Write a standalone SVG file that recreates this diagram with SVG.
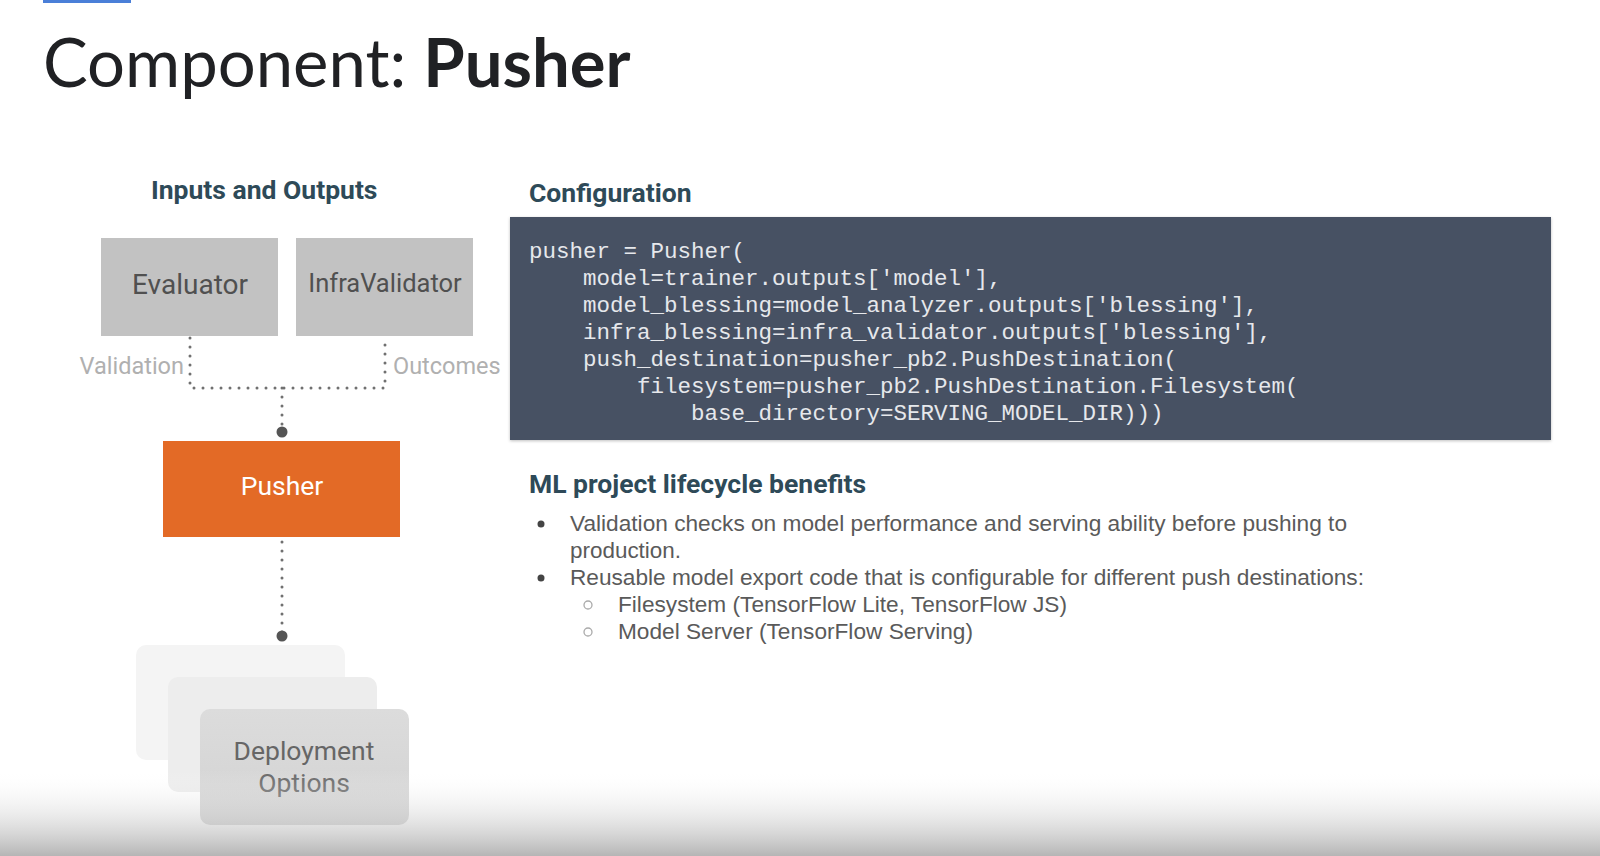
<svg xmlns="http://www.w3.org/2000/svg" width="1600" height="856" viewBox="0 0 1600 856">
  <defs>
    <style>
      .title { font-family: Lato, "Open Sans", sans-serif; font-size: 67px; fill: #202124; }
      .head { font-family: Roboto, "Liberation Sans", sans-serif; font-weight: bold; font-size: 26.5px; fill: #2e4a58; }
      .box-label { font-family: Roboto, "Liberation Sans", sans-serif; font-size: 26.5px; fill: #505050; text-anchor: middle; }
      .edge-label { font-family: Roboto, "Liberation Sans", sans-serif; font-size: 23.5px; fill: #b0b0b0; }
      .code { font-family: "Liberation Mono", "DejaVu Sans Mono", monospace; font-size: 22.5px; fill: #e6e8ec; white-space: pre; }
      .body { font-family: "Liberation Sans", Arial, sans-serif; font-size: 22.5px; fill: #5a5a5a; }
      .dots { fill: none; stroke: #707070; stroke-width: 3; stroke-linecap: round; stroke-dasharray: 0 9; }
    </style>
    <linearGradient id="bottomShade" x1="0" y1="0" x2="0" y2="1">
      <stop offset="0" stop-color="#ffffff" stop-opacity="0"/>
      <stop offset="1" stop-color="#a8a8a8" stop-opacity="0.85"/>
    </linearGradient>
    <linearGradient id="deployFill" x1="0" y1="0" x2="0" y2="1">
      <stop offset="0" stop-color="#dcdcdc"/>
      <stop offset="1" stop-color="#d2d2d2"/>
    </linearGradient>
    <filter id="soft" x="-5%" y="-5%" width="110%" height="115%">
      <feDropShadow dx="0" dy="1" stdDeviation="1.5" flood-color="#000" flood-opacity="0.25"/>
    </filter>
  </defs>

  <rect width="1600" height="856" fill="#ffffff"/>

  <!-- accent bar -->
  <rect x="43" y="0" width="88" height="3" fill="#4a7fd8"/>

  <!-- slide title -->
  <text class="title" x="43" y="87">Component: <tspan font-weight="bold">Pusher</tspan></text>

  <!-- section headings -->
  <text class="head" x="151" y="199">Inputs and Outputs</text>
  <text class="head" x="529" y="202">Configuration</text>
  <text class="head" x="529" y="493">ML project lifecycle benefits</text>

  <!-- connectors -->
  <g id="connectors">
    <path class="dots" d="M190,338 V388 H385 V338"/>
    <path class="dots" d="M282,388 V432"/>
    <path class="dots" d="M282,542 V636"/>
    <circle cx="282" cy="432" r="5.5" fill="#555"/>
    <circle cx="282" cy="636" r="5.5" fill="#555"/>
    <text class="edge-label" x="184" y="374" text-anchor="end">Validation</text>
    <text class="edge-label" x="393" y="374">Outcomes</text>
  </g>

  <!-- nodes -->
  <g id="evaluator">
    <rect x="101" y="238" width="177" height="98" fill="#c2c2c2"/>
    <text class="box-label" x="190" y="294" style="font-size:28px">Evaluator</text>
  </g>
  <g id="infravalidator">
    <rect x="296" y="238" width="177" height="98" fill="#c2c2c2"/>
    <text class="box-label" x="385" y="292" style="font-size:25.5px">InfraValidator</text>
  </g>
  <g id="pusher">
    <rect x="163" y="441" width="237" height="96" fill="#e36a26"/>
    <text class="box-label" x="282" y="495" style="fill:#ffffff">Pusher</text>
  </g>
  <g id="deployment-options">
    <rect x="136" y="645" width="209" height="115" rx="10" fill="#f4f4f4"/>
    <rect x="168" y="677" width="209" height="115" rx="10" fill="#ededed"/>
    <rect x="200" y="709" width="209" height="116" rx="10" fill="url(#deployFill)"/>
    <text class="box-label" x="304" y="760" style="fill:#666">Deployment</text>
    <text class="box-label" x="304" y="792" style="fill:#666">Options</text>
  </g>

  <!-- configuration code block -->
  <g id="configuration">
    <rect x="510" y="217" width="1041" height="223" fill="#465163" filter="url(#soft)"/>
    <text class="code" x="529" y="258">pusher = Pusher(</text>
    <text class="code" x="529" y="285">    model=trainer.outputs['model'],</text>
    <text class="code" x="529" y="312">    model_blessing=model_analyzer.outputs['blessing'],</text>
    <text class="code" x="529" y="339">    infra_blessing=infra_validator.outputs['blessing'],</text>
    <text class="code" x="529" y="366">    push_destination=pusher_pb2.PushDestination(</text>
    <text class="code" x="529" y="393">        filesystem=pusher_pb2.PushDestination.Filesystem(</text>
    <text class="code" x="529" y="420">            base_directory=SERVING_MODEL_DIR)))</text>
  </g>

  <!-- benefits list -->
  <g id="benefits">
    <circle cx="541" cy="524" r="3.5" fill="#444"/>
    <text class="body" x="570" y="531" textLength="777" lengthAdjust="spacingAndGlyphs">Validation checks on model performance and serving ability before pushing to</text>
    <text class="body" x="570" y="558" textLength="111" lengthAdjust="spacingAndGlyphs">production.</text>
    <circle cx="541" cy="578" r="3.5" fill="#444"/>
    <text class="body" x="570" y="585" textLength="794" lengthAdjust="spacingAndGlyphs">Reusable model export code that is configurable for different push destinations:</text>
    <circle cx="588" cy="605" r="4" fill="none" stroke="#aaa" stroke-width="1.3"/>
    <text class="body" x="618" y="612" textLength="449" lengthAdjust="spacingAndGlyphs">Filesystem (TensorFlow Lite, TensorFlow JS)</text>
    <circle cx="588" cy="632" r="4" fill="none" stroke="#aaa" stroke-width="1.3"/>
    <text class="body" x="618" y="639" textLength="355" lengthAdjust="spacingAndGlyphs">Model Server (TensorFlow Serving)</text>
  </g>

  <!-- bottom shading -->
  <rect x="0" y="770" width="1600" height="86" fill="url(#bottomShade)"/>
</svg>
